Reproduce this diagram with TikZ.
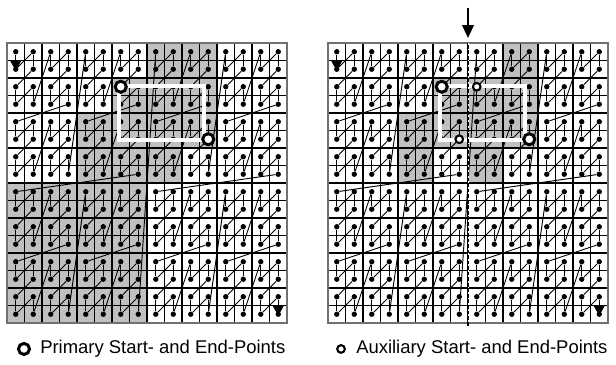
\documentclass[tikz,border=0pt]{standalone}
\usepackage{fontspec}
\setmainfont{Liberation Sans}
\usetikzlibrary{arrows.meta}
\definecolor{cgray}{HTML}{C0C0C0}
\definecolor{cframe}{HTML}{707070}
\tikzset{
  cellfill/.style={fill=cgray},
  query/.style={draw=white, line width=3.4pt},
  thingrid/.style={line width=0.85pt},
  thickgrid/.style={line width=1.3pt},
  frame/.style={draw=cframe, line width=0.9pt},
  dot/.style={circle, fill=black, inner sep=0pt, minimum size=4.4pt},
  zline/.style={line width=0.75pt},
  tip/.style={-{Triangle[length=8.5pt, width=9.5pt]}, shorten >=-3.5pt},
  primary/.style={circle, draw=black, fill=white, line width=2.4pt, inner sep=0pt, minimum size=9pt},
  auxiliary/.style={circle, draw=black, fill=white, line width=1.7pt, inner sep=0pt, minimum size=6.2pt},
  split/.style={line width=2pt},
  splitgap/.style={draw=white, line width=0.7pt, dash pattern=on 1.5pt off 3pt},
  cutarrow/.style={-{Triangle[length=10.5pt, width=9.5pt]}, line width=1.6pt},
  legend/.style={anchor=west, inner sep=0pt, font=\fontsize{15}{18}\selectfont},
}
\newcommand\mortonxy[1]{%
  \pgfmathtruncatemacro\cx{mod(int(#1/2),2)+2*mod(int(#1/8),2)+4*mod(int(#1/32),2)+8*mod(int(#1/128),2)}%
  \pgfmathtruncatemacro\cy{mod(#1,2)+2*mod(int(#1/4),2)+4*mod(int(#1/16),2)+8*mod(int(#1/64),2)}%
}

\begin{document}
\begin{tikzpicture}[x=0.5cm, y=-0.5cm]
  \useasboundingbox (0,0) rectangle (35.2,20.857);
  \foreach \g/\ox/\ga/\gb in {l/0.4/155/155, r/18.743/59/132} {
    \begin{scope}[shift={(\ox,2.457)}]
      % cells of the curve that lie between start and end
      \foreach \k in {44,...,155} {
        \mortonxy{\k}
        \pgfmathtruncatemacro\inrange{(\k<=\ga)||(\k>=\gb)}
        \ifnum\inrange=1 \fill[cellfill] (\cx,\cy) rectangle ++(1,1); \fi
      }
      \foreach \i in {1,3,...,15} {
        \draw[thingrid] (\i,0) -- (\i,16);
        \draw[thingrid] (0,\i) -- (16,\i);
      }
      \foreach \i in {2,4,...,14} {
        \draw[thickgrid] (\i,0) -- (\i,16);
        \draw[thickgrid] (0,\i) -- (16,\i);
      }
      \draw[frame] (0,0) rectangle (16,16);
      % z-order curve
      \foreach \k in {0,...,255} {
        \mortonxy{\k}
        \node[dot] (\g-\k) at (\cx+0.5,\cy+0.5) {};
      }
      \foreach \k [evaluate=\k as \n using int(\k+1)] in {1,...,253}
        \draw[zline] (\g-\k) -- (\g-\n);
      \draw[zline, tip] (\g-0) -- (\g-1);
      \draw[zline, tip] (\g-254) -- (\g-255);
      \draw[query] (6.4,2.45) rectangle (11.25,5.55);
      \node[primary] (\g-start) at (\g-44) {};
      \node[primary] (\g-end) at (\g-155) {};
    \end{scope}
  }
  \begin{scope}[shift={(18.743,2.457)}]
    \draw[split] (8,0) -- (8,16.15);
    \draw[splitgap] (8,0) -- (8,16);
    \node[auxiliary] (r-auxstart) at (r-132) {};
    \node[auxiliary] (r-auxend) at (r-59) {};
    \coordinate (cut-top) at (8,-2);
    \coordinate (cut-tip) at (8,-0.29);
    \draw[cutarrow] (cut-top) -- (cut-tip);
  \end{scope}
  % legend
  \node[primary] (key-primary) at (1.371,19.94) {};
  \node[legend] (key-primary-text) at (2.286,19.94) {Primary Start- and End-Points};
  \node[auxiliary] (key-aux) at (19.486,19.94) {};
  \node[legend] (key-aux-text) at (20.343,19.94) {Auxiliary Start- and End-Points};
\end{tikzpicture}
\end{document}
